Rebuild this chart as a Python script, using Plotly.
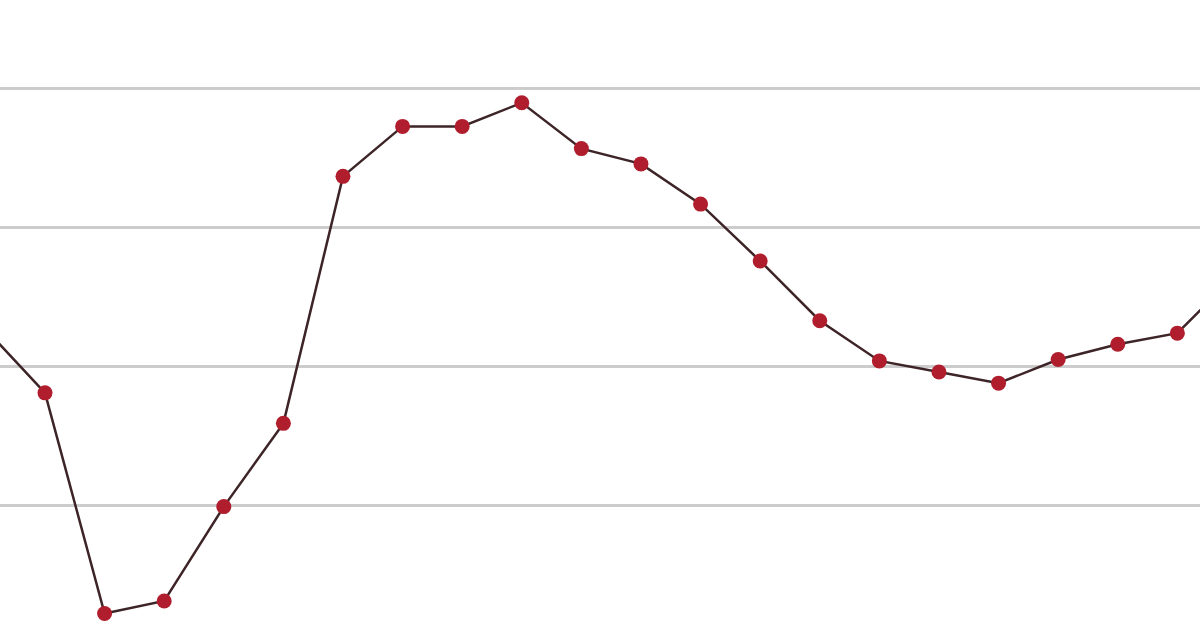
"""Cropped line chart: dark line with red point markers on light grid."""

import plotly.graph_objects as go

# x positions are just the sequence index of each observation
x_index = list(range(22))
values = [
    2.27, 1.81, 0.22, 0.31, 0.99, 1.59, 3.37, 3.73, 3.73, 3.90, 3.57,
    3.46, 3.17, 2.76, 2.33, 2.04, 1.96, 1.88, 2.05, 2.16, 2.24, 2.67,
]
grid_values = [1, 2, 3, 4]

LINE_COLOR = "#3d2427"
MARKER_COLOR = "#b01e2d"
GRID_COLOR = "#cccccc"

fig = go.Figure()
fig.add_trace(go.Scatter(
    x=x_index, y=values, mode="lines+markers",
    line=dict(color=LINE_COLOR, width=2.5),
    marker=dict(color=MARKER_COLOR, size=15),
    showlegend=False,
))

fig.update_layout(
    width=1200, height=644,
    margin=dict(l=0, r=0, t=0, b=0),
    paper_bgcolor="white", plot_bgcolor="white",
    xaxis=dict(
        range=[0.245, 20.38], showgrid=False, zeroline=False,
        showticklabels=False, showline=False,
    ),
    yaxis=dict(
        range=[0.0, 4.641], tickvals=grid_values, showgrid=True,
        gridcolor=GRID_COLOR, gridwidth=2.5, zeroline=False,
        showticklabels=False, showline=False,
    ),
)

# browser default body margin pushes the plot off by 8px
fig.write_html(
    "out.html",
    config=dict(displayModeBar=False),
    post_script="document.body.style.margin='0';",
)
